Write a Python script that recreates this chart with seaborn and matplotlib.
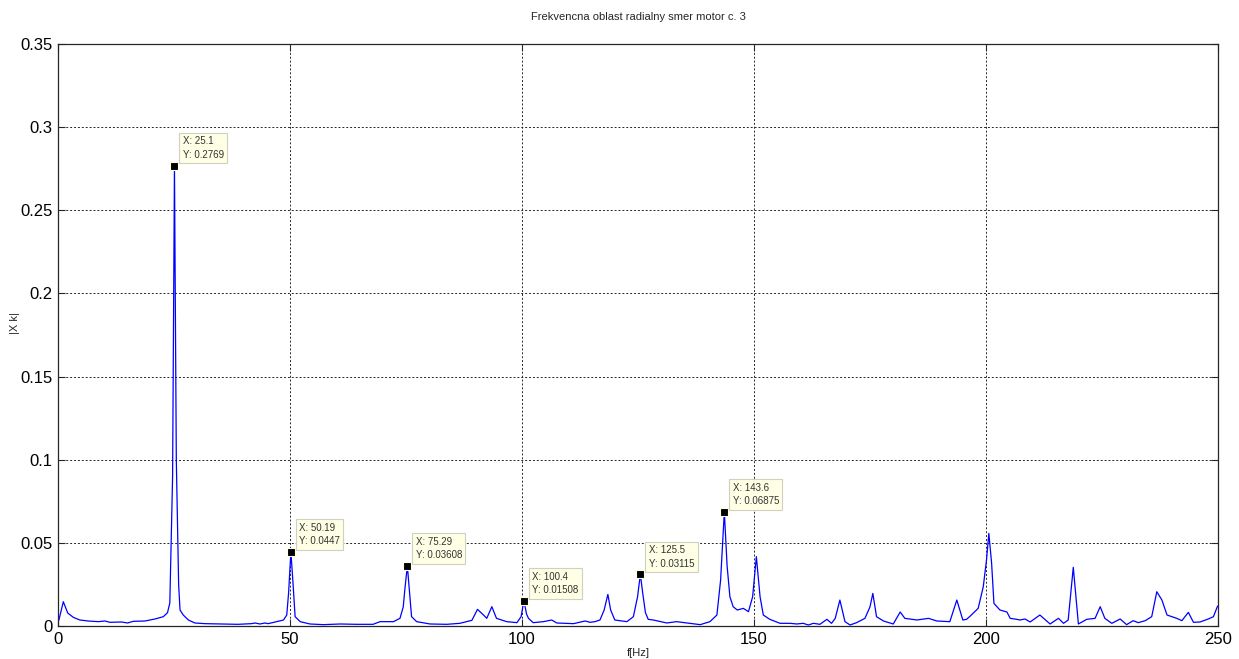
"""
Spectrum plot of radial vibration, motor no. 3 (MATLAB-style figure).
"""
import pandas as pd
import matplotlib
matplotlib.use("Agg")
import matplotlib.pyplot as plt
import seaborn as sns

# spectrum: frequency [Hz] and |Xk|
freq = [0.2, 1.15, 2.1, 3.3, 4.7, 6.5, 8.7, 10.1, 11.2, 13.7, 15.0, 16.2, 18.75,
        20.9, 22.7, 23.6, 24.1, 24.7, 25.1, 25.5, 26.0, 26.3, 27.0, 28.1, 29.5,
        31.7, 35.3, 38.8, 41.7, 42.5, 43.5, 44.6, 45.3, 46.8, 48.6, 49.3, 49.7,
        50.19, 50.7, 51.1, 52.2, 54.3, 57.2, 60.8, 64.4, 67.9, 69.4, 72.3, 73.7,
        74.4, 74.8, 75.29, 75.9, 76.2, 77.3, 80.2, 83.8, 86.6, 89.2, 90.4, 91.7,
        92.4, 93.5, 94.5, 96.7, 98.9, 99.8, 100.4, 101.0, 101.4, 102.4, 104.6,
        106.4, 107.5, 111.1, 113.6, 114.7, 115.7, 116.8, 117.7, 118.5, 119.1,
        120.0, 122.6, 124.0, 124.9, 125.5, 126.0, 126.6, 127.2, 128.3, 131.2,
        133.3, 135.5, 138.4, 140.5, 142.0, 142.8, 143.6, 144.2, 144.8, 145.5,
        146.4, 147.7, 148.8, 149.7, 150.5, 151.3, 152.0, 153.4, 155.6, 157.8,
        159.2, 160.6, 161.7, 162.8, 164.2, 165.7, 166.7, 167.5, 168.5, 169.6,
        170.7, 172.1, 173.9, 175.0, 175.6, 176.4, 177.9, 180.0, 181.5, 182.5,
        185.1, 187.6, 189.4, 192.2, 193.7, 195.0, 195.8, 196.6, 198.3, 199.4,
        200.1, 200.6, 201.2, 201.7, 203.0, 204.5, 205.2, 206.6, 207.3, 208.4,
        209.5, 211.6, 213.8, 215.6, 216.7, 217.7, 218.8, 219.9, 221.7, 223.5,
        224.6, 225.6, 227.1, 228.9, 230.3, 231.7, 232.8, 234.3, 235.7, 236.8,
        237.9, 239.0, 241.1, 242.2, 243.6, 244.7, 246.1, 247.9, 249.0, 249.9]
amp = [0.0036, 0.0146, 0.0078, 0.0052, 0.0036, 0.0030, 0.0026, 0.0030, 0.0022,
       0.0024, 0.0018, 0.0028, 0.0030, 0.0042, 0.0056, 0.0080, 0.0138, 0.0900,
       0.2769, 0.1000, 0.0250, 0.0096, 0.0066, 0.0036, 0.0018, 0.0014, 0.0012,
       0.0010, 0.0014, 0.0018, 0.0012, 0.0018, 0.0014, 0.0024, 0.0036, 0.0066,
       0.0200, 0.0447, 0.0236, 0.0056, 0.0026, 0.0012, 0.0008, 0.0012, 0.0010,
       0.0010, 0.0026, 0.0026, 0.0046, 0.0114, 0.0234, 0.03608, 0.0156, 0.0056,
       0.0026, 0.0012, 0.0010, 0.0016, 0.0034, 0.0100, 0.0066, 0.0046, 0.0116,
       0.0046, 0.0026, 0.0020, 0.0056, 0.01508, 0.0070, 0.0046, 0.0020, 0.0026,
       0.0036, 0.0018, 0.0014, 0.0030, 0.0022, 0.0026, 0.0036, 0.0096, 0.0190,
       0.0096, 0.0036, 0.0026, 0.0056, 0.0176, 0.03115, 0.0200, 0.0080, 0.0040,
       0.0036, 0.0018, 0.0026, 0.0018, 0.0008, 0.0026, 0.0066, 0.0277, 0.06875,
       0.0360, 0.0176, 0.0116, 0.0096, 0.0106, 0.0086, 0.0176, 0.0417, 0.0176,
       0.0066, 0.0040, 0.0016, 0.0016, 0.0012, 0.0016, 0.0006, 0.0016, 0.0010,
       0.0040, 0.0016, 0.0046, 0.0156, 0.0026, 0.0006, 0.0020, 0.0046, 0.0116,
       0.0196, 0.0056, 0.0030, 0.0012, 0.0084, 0.0046, 0.0036, 0.0046, 0.0030,
       0.0026, 0.0156, 0.0036, 0.0040, 0.0060, 0.0106, 0.0236, 0.0397, 0.0557,
       0.0377, 0.0136, 0.0096, 0.0084, 0.0046, 0.0040, 0.0036, 0.0042, 0.0024,
       0.0066, 0.0012, 0.0046, 0.0016, 0.0036, 0.0353, 0.0012, 0.0040, 0.0046,
       0.0116, 0.0046, 0.0016, 0.0042, 0.0008, 0.0032, 0.0020, 0.0032, 0.0056,
       0.0206, 0.0156, 0.0066, 0.0046, 0.0032, 0.0082, 0.0022, 0.0024, 0.0042,
       0.0056, 0.0120]

# data tips shown on the figure
tip_x = [25.1, 50.19, 75.29, 100.4, 125.5, 143.6]
tip_y = [0.2769, 0.0447, 0.03608, 0.01508, 0.03115, 0.06875]
tip_xlabels = ["25.1", "50.19", "75.29", "100.4", "125.5", "143.6"]
tip_ylabels = ["0.2769", "0.0447", "0.03608", "0.01508", "0.03115", "0.06875"]

x_ticks = [0, 50, 100, 150, 200, 250]
y_ticks = [0, 0.05, 0.1, 0.15, 0.2, 0.25, 0.3, 0.35]


def main():
    df = pd.DataFrame({"f": freq, "X": amp})

    sns.set_theme(style="white")
    plt.rcParams["font.family"] = ["Liberation Sans", "DejaVu Sans"]

    fig = plt.figure(figsize=(12.39, 6.59), dpi=100)
    ax = fig.add_axes([0.0468, 0.0501, 0.9363, 0.8831])

    sns.lineplot(data=df, x="f", y="X", color="#0000ff", linewidth=0.9,
                 ax=ax, zorder=3)

    ax.set_xlim(0, 250)
    ax.set_ylim(0, 0.35)
    ax.set_xticks(x_ticks)
    ax.set_xticklabels([str(t) for t in x_ticks])
    ax.set_yticks(y_ticks)
    ax.set_yticklabels(["0", "0.05", "0.1", "0.15", "0.2", "0.25", "0.3", "0.35"])
    ax.tick_params(direction="in", length=5, width=0.8, labelsize=12,
                   top=True, right=True, bottom=True, left=True, pad=4,
                   colors="#262626", labelcolor="black")

    ax.grid(True, linestyle=(0, (2, 2)), color="#262626", linewidth=0.7)
    for sp in ax.spines.values():
        sp.set_color("#262626")
        sp.set_linewidth(0.9)

    ax.set_title("Frekvencna oblast radialny smer motor c. 3", fontsize=8,
                 pad=17)
    ax.set_xlabel("f[Hz]", fontsize=8, labelpad=1)
    ax.set_ylabel("|X k|", fontsize=8)
    ax.yaxis.set_label_coords(-0.033, 0.52)

    # data tips: black square marker plus pale yellow box
    sns.scatterplot(x=tip_x, y=tip_y, marker="s", s=30, color="black",
                    edgecolor="#ffffe1", linewidth=0.8, ax=ax, zorder=5)
    for x, y, xl, yl in zip(tip_x, tip_y, tip_xlabels, tip_ylabels):
        ax.annotate(f"X: {xl}\nY: {yl}", xy=(x, y), xytext=(6, 4),
                    textcoords="offset points", ha="left", va="bottom",
                    fontsize=7, color="#333333", linespacing=1.45,
                    bbox=dict(boxstyle="square,pad=0.35", fc="#ffffe5",
                              ec="#d0d0c0", lw=0.8), zorder=6)

    fig.savefig("out.png", dpi=100)
    print("Generated: out.png")


if __name__ == "__main__":
    main()
